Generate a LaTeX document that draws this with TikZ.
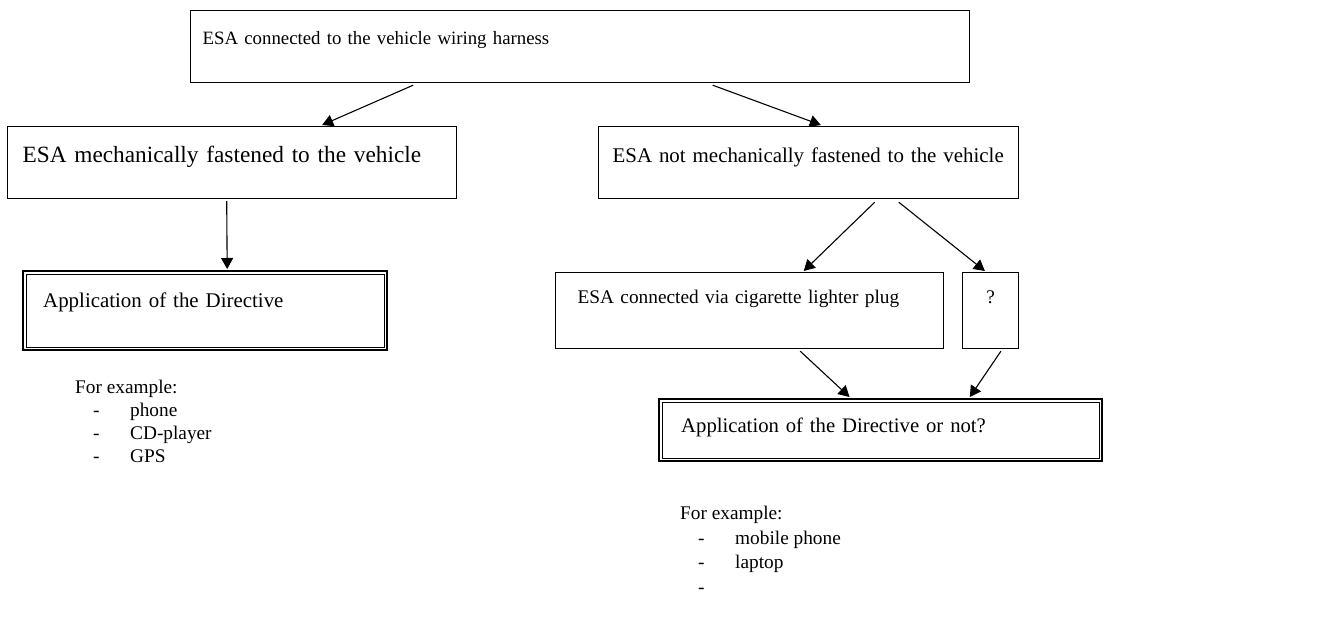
\documentclass[tikz,border=0pt]{standalone}
\usepackage{fontspec}
\setmainfont{Liberation Serif}
\usetikzlibrary{arrows.meta, positioning, calc}

\newcommand{\exitem}[1]{\hspace*{18pt}\makebox[37pt][l]{-}#1}

\begin{document}
\begin{tikzpicture}[x=1pt, y=-1pt, >={Triangle[length=11pt,width=12pt]},
  box/.style={draw, line width=1.2pt, inner ysep=0pt, anchor=north west,
              align=left, font=\fontsize{#1}{#1}\selectfont},
  box/.default=19.3,
  dblbox/.style={box=#1, line width=2.4pt},
  dblbox/.default=19.3,
  link/.style={->, line width=1.1pt},
  exlist/.style={anchor=north west, inner sep=0pt, align=left}]

  \useasboundingbox (0,0) rectangle (1337,637);

  % Boxes
  \node[box=18.8, inner xsep=12pt, text width=755pt, text height=34pt, text depth=38pt]
    (harness) at (190,10) {ESA connected to the vehicle wiring harness};
  \node[box=23.3, inner xsep=15pt, text width=419pt, text height=36pt, text depth=36pt]
    (fastened) at (7,126) {ESA mechanically fastened to the vehicle};
  \node[box=20.9, inner xsep=14pt, text width=392pt, text height=36pt, text depth=36pt]
    (loose) at (598,126) {ESA not mechanically fastened to the vehicle};
  \node[dblbox=20.9, inner xsep=20pt, text width=324pt, text height=36pt, text depth=43pt]
    (directive) at (22,270) {Application of the Directive};
  \node[box, inner xsep=22pt, text width=344pt, text height=31pt, text depth=45pt]
    (lighter) at (555,272) {ESA connected via cigarette lighter plug};
  \node[box, inner xsep=0pt, text width=56pt, align=center, text height=31pt, text depth=45pt]
    (unknown) at (962,272) {?};
  \node[dblbox=20.7, inner xsep=22pt, text width=399pt, text height=33pt, text depth=29pt]
    (ornot) at (658,398) {Application of the Directive or not?};

  % Inner frames of the double boxes
  \draw[line width=0.8pt] ($(directive.north west)+(4.5,4.5)$) rectangle ($(directive.south east)+(-4.5,-4.5)$);
  \draw[line width=0.8pt] ($(ornot.north west)+(4.5,4.5)$) rectangle ($(ornot.south east)+(-4.5,-4.5)$);

  % Examples
  \node[exlist, font=\fontsize{19.3}{23}\selectfont] (fixedex) at (75,380)
    {For example:\\\exitem{phone}\\\exitem{CD-player}\\\exitem{GPS}};
  \node[exlist, font=\fontsize{19.3}{24.5}\selectfont] (looseex) at (680,506)
    {For example:\\\exitem{mobile phone}\\\exitem{laptop}\\\exitem{}};

  % Arrows
  \draw[link] ($(harness.south west)!0.286!(harness.south east)+(0,2)$)
    -- ($(fastened.north west)!0.70!(fastened.north east)+(0,-1)$);
  \draw[link] ($(harness.south west)!0.67!(harness.south east)+(0,2)$)
    -- ($(loose.north west)!0.529!(loose.north east)+(0,-1)$);
  \draw[link] ($(fastened.south west)!0.488!(fastened.south east)+(0,2)$)
    -- ($(directive.north west)!0.56!(directive.north east)+(0,-1)$);
  \draw[link] ($(loose.south west)!0.657!(loose.south east)+(0,3)$)
    -- ($(lighter.north west)!0.639!(lighter.north east)+(0,-1)$);
  \draw[link] ($(loose.south west)!0.714!(loose.south east)+(0,3)$)
    -- ($(unknown.north west)!0.4!(unknown.north east)+(0,-1)$);
  \draw[link] ($(lighter.south west)!0.63!(lighter.south east)+(0,2)$)
    -- ($(ornot.north west)!0.43!(ornot.north east)+(0,-1)$);
  \draw[link] ($(unknown.south west)!0.68!(unknown.south east)+(0,2)$)
    -- ($(ornot.north west)!0.70!(ornot.north east)+(0,-1)$);
\end{tikzpicture}
\end{document}
